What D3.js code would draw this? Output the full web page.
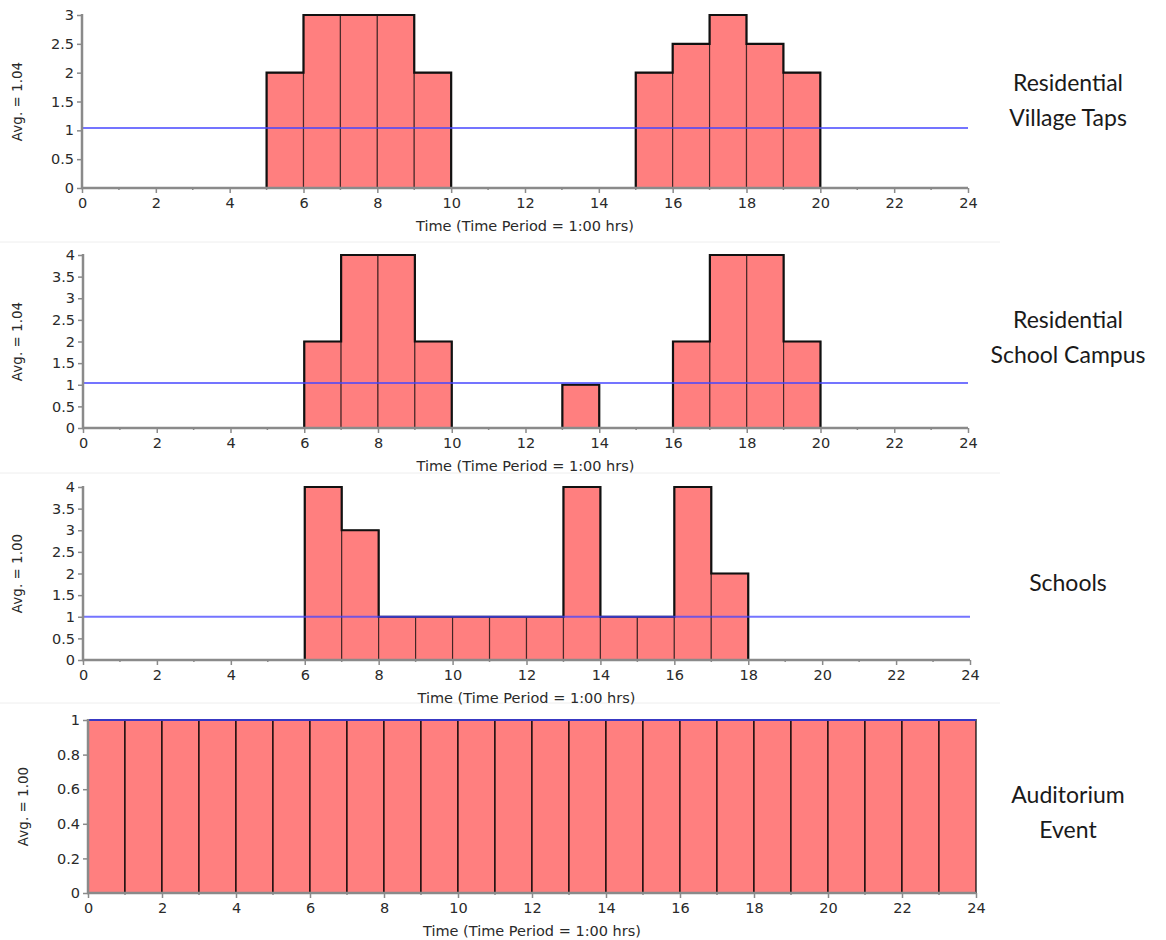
<!DOCTYPE html>
<html>
<head>
<meta charset="utf-8">
<script src="https://cdn.jsdelivr.net/npm/d3@7"></script>
<style>
  body { margin: 0; background: #fff; }
  svg { display: block; }
</style>
</head>
<body>
<svg id="chart" width="1166" height="940"></svg>
<script>
// hourly demand factors, hour 0..23
const hours = d3.range(24);
const villageTaps = [0,0,0,0,0,2,3,3,3,2,0,0,0,0,0,2,2.5,3,2.5,2,0,0,0,0];
const schoolCampus = [0,0,0,0,0,0,2,4,4,2,0,0,0,1,0,0,2,4,4,2,0,0,0,0];
const schools = [0,0,0,0,0,0,4,3,1,1,1,1,1,4,1,1,4,2,0,0,0,0,0,0];
const auditorium = [1,1,1,1,1,1,1,1,1,1,1,1,1,1,1,1,1,1,1,1,1,1,1,1];

const panelNames = [["Residential", "Village Taps"], ["Residential", "School Campus"], ["Schools"], ["Auditorium", "Event"]];
const avgLabels = ["Avg. = 1.04", "Avg. = 1.04", "Avg. = 1.00", "Avg. = 1.00"];
const yMaxes = [3, 4, 4, 1];
const yTickSteps = [0.5, 0.5, 0.5, 0.2];
const xTicks = d3.range(0, 25, 2);
const xTitle = "Time (Time Period = 1:00 hrs)";

const series = [villageTaps, schoolCampus, schools, auditorium];

// plot boxes
const boxes = [
  {l: 82, r: 968, t: 15, b: 188, labelY: 100},
  {l: 83, r: 968, t: 255, b: 428, labelY: 337},
  {l: 83, r: 970, t: 487, b: 660, labelY: 583},
  {l: 88, r: 976, t: 720, b: 893, labelY: 812}
];

const svg = d3.select("#chart");
const axisGray = "#8a8a8a";
const tickFont = "DejaVu Sans, Verdana, sans-serif";
const textColor = "#2a2a2a";

// faint separators between panels
[242, 473, 703].forEach(y => {
  svg.append("line").attr("x1", 0).attr("x2", 1000).attr("y1", y).attr("y2", y)
    .attr("stroke", "#eeeeee").attr("stroke-width", 1);
});

series.forEach((vals, i) => {
  const bx = boxes[i];
  const x = d3.scaleLinear().domain([0, 24]).range([bx.l, bx.r]);
  const y = d3.scaleLinear().domain([0, yMaxes[i]]).range([bx.b, bx.t]);
  const g = svg.append("g");
  const avg = d3.mean(vals);

  const data = hours.map(h => ({h, v: vals[h]})).filter(d => d.v > 0);

  // bars
  g.selectAll("rect.bar")
    .data(data)
    .join("rect")
    .attr("class", "bar")
    .attr("x", d => x(d.h))
    .attr("width", d => x(d.h + 1) - x(d.h))
    .attr("y", d => y(d.v))
    .attr("height", d => y(0) - y(d.v))
    .attr("fill", "#ff7f7f")
    .attr("stroke", "rgba(0,0,0,0.6)")
    .attr("stroke-width", i === 3 ? 2 : 1.2);

  // outer silhouette of each run of bars
  if (i < 3) {
    let pts = [];
    const runs = [];
    hours.forEach(h => {
      if (vals[h] > 0) {
        if (!pts.length) pts.push([h, 0]);
        pts.push([h, vals[h]], [h + 1, vals[h]]);
      } else if (pts.length) {
        pts.push([h, 0]);
        runs.push(pts);
        pts = [];
      }
    });
    if (pts.length) { pts.push([24, 0]); runs.push(pts); }
    const line = d3.line().x(d => x(d[0])).y(d => y(d[1]));
    g.selectAll("path.outline")
      .data(runs)
      .join("path")
      .attr("class", "outline")
      .attr("d", line)
      .attr("fill", "none")
      .attr("stroke", "#111")
      .attr("stroke-width", 2.2);
  } else {
    g.append("line")
      .attr("x1", x(0)).attr("x2", x(24))
      .attr("y1", y(1)).attr("y2", y(1))
      .attr("stroke", "#111").attr("stroke-width", 2);
  }

  // average line
  g.append("line")
    .attr("x1", x(0)).attr("x2", x(24))
    .attr("y1", y(avg)).attr("y2", y(avg))
    .attr("stroke", "rgba(70,70,255,0.75)")
    .attr("stroke-width", 2);

  // y axis
  const yTicks = d3.range(0, yMaxes[i] + 1e-9, yTickSteps[i]).map(v => +v.toFixed(2));
  const yAxis = g.append("g")
    .attr("transform", `translate(${bx.l},0)`)
    .call(d3.axisLeft(y).tickValues(yTicks).tickFormat(d => String(d)).tickSize(5).tickPadding(3));
  yAxis.select(".domain").attr("stroke", axisGray).attr("stroke-width", 2.5)
    .attr("d", `M0,${bx.t - 1}V${bx.b + 1}`);
  yAxis.selectAll(".tick line").attr("stroke", axisGray).attr("stroke-width", 1.5);
  yAxis.selectAll(".tick text").attr("font-family", tickFont).attr("font-size", 14.5).attr("fill", textColor);

  // x axis
  const xAxis = g.append("g")
    .attr("transform", `translate(0,${bx.b})`)
    .call(d3.axisBottom(x).tickValues(xTicks).tickFormat(d => String(d)).tickSize(5).tickPadding(5));
  xAxis.select(".domain").attr("stroke", axisGray).attr("stroke-width", 2.5)
    .attr("d", `M${bx.l - 1},0H${bx.r}`);
  xAxis.selectAll(".tick line").attr("stroke", axisGray).attr("stroke-width", 1.5);
  xAxis.selectAll(".tick text").attr("font-family", tickFont).attr("font-size", 14.5).attr("fill", textColor);
  // minor ticks at odd hours
  xAxis.selectAll("line.minor")
    .data(d3.range(1, 24, 2))
    .join("line")
    .attr("class", "minor")
    .attr("x1", d => x(d)).attr("x2", d => x(d))
    .attr("y1", 0).attr("y2", 2)
    .attr("stroke", axisGray).attr("stroke-width", 1.5);

  // x title
  g.append("text")
    .attr("x", (bx.l + bx.r) / 2)
    .attr("y", bx.b + 43)
    .attr("text-anchor", "middle")
    .attr("font-family", tickFont)
    .attr("font-size", 14.5)
    .attr("fill", textColor)
    .text(xTitle);

  // y title
  g.append("text")
    .attr("transform", `translate(${i === 3 ? 28 : 22},${(bx.t + bx.b) / 2}) rotate(-90)`)
    .attr("text-anchor", "middle")
    .attr("font-family", tickFont)
    .attr("font-size", 13.5)
    .attr("fill", textColor)
    .text(avgLabels[i]);

  // panel name
  const names = panelNames[i];
  g.selectAll("text.name")
    .data(names)
    .join("text")
    .attr("class", "name")
    .attr("x", 1068)
    .attr("y", (d, k) => bx.labelY + (k - (names.length - 1) / 2) * 35 + 8)
    .attr("text-anchor", "middle")
    .attr("font-family", "Lato, 'Open Sans', sans-serif")
    .attr("font-size", 23)
    .attr("fill", "#1a1a1a")
    .text(d => d);
});
</script>
</body>
</html>
